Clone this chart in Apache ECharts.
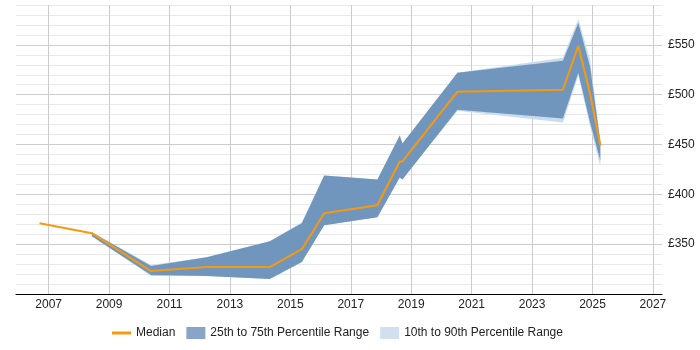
<!DOCTYPE html>
<html>
<head>
<meta charset="utf-8">
<script src="https://cdn.jsdelivr.net/npm/echarts@6/dist/echarts.min.js"></script>
<style>
html, body { margin: 0; padding: 0; background: #fff; }
#chart { width: 700px; height: 350px; }
</style>
</head>
<body>
<div id="chart"></div>
<script>
// decimal years
var years  = [2006.70, 2008.43, 2010.39, 2012.23, 2014.32, 2015.38, 2016.12, 2017.88, 2018.62, 2018.71, 2020.53, 2024.02, 2024.53, 2024.92, 2025.26];
var median = [371, 361, 323, 327, 327, 345, 381, 389, 433, 433, 503, 505, 549, 501, 449];
// percentile bands start at the 2nd point
var q25 = [null, 358, 319, 318, 315, 332, 369, 377, 417, 415, 485, 476, 522, 472, 434];
var q75 = [null, 362, 328, 337, 353, 371, 419, 415, 459, 451, 522, 534, 572, 528, 452];
var p10 = [null, 358, 318, 318, 315, 332, 369, 377, 417, 415, 484, 472, 519, 468, 428];
var p90 = [null, 362, 329, 337, 353, 372, 419, 415, 459, 451, 522, 537, 576, 535, 456];
var yearTicks = [2007, 2009, 2011, 2013, 2015, 2017, 2019, 2021, 2023, 2025, 2027];

function bandData(lo, hi) {
    var out = [];
    for (var i = 0; i < years.length; i++) {
        if (lo[i] == null) continue;
        out.push([years[i], lo[i], hi[i]]);
    }
    return out;
}

// one polygon per band: upper edge left->right, lower edge back
function bandRenderer(rows, color) {
    return function (params, api) {
        if (params.dataIndex !== 0) return;
        var pts = [];
        rows.forEach(function (r) { pts.push(api.coord([r[0], r[2]])); });
        for (var i = rows.length - 1; i >= 0; i--) pts.push(api.coord([rows[i][0], rows[i][1]]));
        return { type: 'polygon', shape: { points: pts }, style: { fill: color } };
    };
}

var darkBand = '#7196bd';
var lightBand = '#c9dbee';
var orange = '#f7990f';
var outer = bandData(p10, p90);
var inner = bandData(q25, q75);

var chart = echarts.init(document.getElementById('chart'));
var option = {
    animation: false,
    textStyle: { fontFamily: 'Liberation Sans, Arial, sans-serif' },
    grid: { left: 16, right: 38, top: 5, bottom: 56 },
    xAxis: {
        type: 'value',
        min: 2005.92,
        max: 2027.3,
        axisLine: { onZero: false, lineStyle: { color: '#000', width: 1 } },
        axisTick: { show: false, customValues: yearTicks },
        axisLabel: {
            customValues: yearTicks,
            formatter: function (v) { return String(v); },
            color: '#222', fontSize: 12, margin: 5
        },
        splitLine: { show: true, lineStyle: { color: '#cccccc' } }
    },
    yAxis: {
        type: 'value',
        position: 'right',
        min: 300, max: 590, interval: 10,
        axisLine: { show: false },
        axisTick: { show: false },
        axisLabel: {
            formatter: function (v) { return (v % 50 === 0 && v >= 350) ? '£' + v : ''; },
            color: '#222', fontSize: 12, margin: 6
        },
        splitLine: { lineStyle: { color: ['#cccccc', '#e8e8e8', '#e8e8e8', '#e8e8e8', '#e8e8e8'] } }
    },
    legend: {
        left: 112, top: 327, padding: 0,
        itemWidth: 19, itemHeight: 12, itemGap: 11,
        textStyle: { fontSize: 12, color: '#222' },
        data: [
            { name: 'Median', icon: 'path://M0,0L0,0M0,4.5L19,4.5L19,7.5L0,7.5ZM19,12L19,12', itemStyle: { color: orange } },
            { name: '25th to 75th Percentile Range', icon: 'rect', itemStyle: { color: '#88a5c7' } },
            { name: '10th to 90th Percentile Range', icon: 'rect', itemStyle: { color: '#d0e0f0' } }
        ]
    },
    series: [
        {
            name: '10th to 90th Percentile Range', type: 'custom',
            data: outer, encode: { x: 0, y: [1, 2] },
            itemStyle: { color: lightBand },
            renderItem: bandRenderer(outer, lightBand)
        },
        {
            name: '25th to 75th Percentile Range', type: 'custom',
            data: inner, encode: { x: 0, y: [1, 2] },
            itemStyle: { color: darkBand },
            renderItem: bandRenderer(inner, darkBand)
        },
        {
            name: 'Median', type: 'line',
            data: years.map(function (y, i) { return [y, median[i]]; }),
            symbol: 'none', itemStyle: { color: orange },
            lineStyle: { color: orange, width: 2 }
        }
    ]
};
chart.setOption(option);
</script>
</body>
</html>
